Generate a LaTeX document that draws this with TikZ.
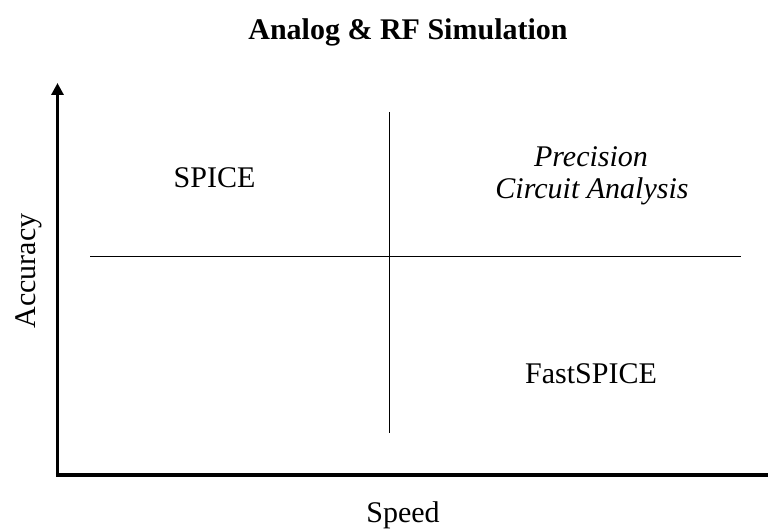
\documentclass[tikz,border=0pt]{standalone}
\usepackage{fontspec}
\setmainfont{Liberation Serif}
\usetikzlibrary{arrows.meta}
\begin{document}
\begin{tikzpicture}[x=1pt,y=-1pt,
  lbl/.style={font=\fontsize{30}{31}\selectfont, inner sep=0pt, anchor=base},
  axisline/.style={line width=3.5pt},
  quadline/.style={line width=1pt}]
\useasboundingbox (0,0) rectangle (768,529);
% axes
\coordinate (o) at (57.5,475);
\coordinate (ytop) at (57.5,83);
\coordinate (xend) at (768,475);
\draw[axisline,-{Triangle[width=12pt,length=12pt]}] (o) -- (ytop);
\draw[axisline] ([xshift=-1.75pt]o) -- (xend);
% quadrant lines
\coordinate (vtop) at (389.3,112);
\coordinate (vbot) at (389.3,433);
\coordinate (hl) at (90,256.7);
\coordinate (hr) at (741,256.7);
\draw[quadline] (vtop) -- (vbot);
\draw[quadline] (hl) -- (hr);
% labels
\node[lbl, font=\fontsize{30}{31}\selectfont\bfseries] (title) at (408,40) {Analog \& RF Simulation};
\node[lbl] (spice) at (214.5,188) {SPICE};
\node[lbl, font=\fontsize{30}{31}\selectfont\itshape] (prec1) at (591,167) {Precision};
\node[lbl, font=\fontsize{30}{31}\selectfont\itshape] (prec2) at (592,199) {Circuit Analysis};
\node[lbl] (fast) at (591,383) {FastSPICE};
\node[lbl] (speed) at (403,522) {Speed};
\node[lbl, rotate=90] (acc) at (35,271) {Accuracy};
\end{tikzpicture}
\end{document}
